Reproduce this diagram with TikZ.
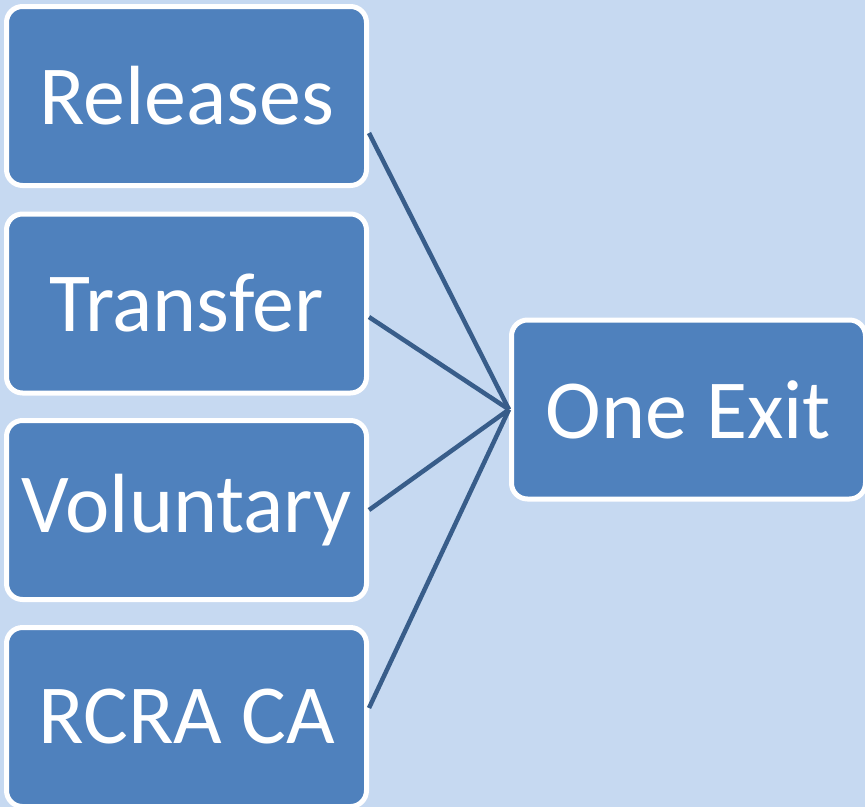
\documentclass[tikz,border=0pt]{standalone}
\usepackage{fontspec}
\setmainfont{Carlito}
\usepackage{tikz}
\definecolor{bgblue}{HTML}{C6D9F1}
\definecolor{boxblue}{HTML}{4F81BD}
\definecolor{lineblue}{HTML}{385D8A}
\tikzset{
	item/.style={draw=white, line width=5pt, fill=boxblue, rounded corners=16pt, text=white, inner sep=0pt,
		minimum width=360pt, minimum height=179pt, font=\fontsize{84}{100}\selectfont},
	link/.style={draw=lineblue, line width=4.5pt}
}
\begin{document}
\begin{tikzpicture}[x=1pt, y=1pt]
			\fill[bgblue] (0,0) rectangle (865,-807);
			\useasboundingbox (0,0) rectangle (865,-807);
			\node[item] (releases) at (186.5,-96) {Releases};
			\node[item] (transfer) at (186.5,-303.5) {Transfer};
			\node[item] (voluntary) at (186.5,-510) {Voluntary};
			\node[item] (rcra) at (186.5,-717) {RCRA CA};
			\node[item, minimum width=354pt] (exit) at (688.5,-409.5) {One Exit};
			\draw[link] ([yshift=-37pt]releases.east) -- (exit.west);
			\draw[link] ([yshift=-13.5pt]transfer.east) -- (exit.west);
			\draw[link] (voluntary.east) -- (exit.west);
			\draw[link] ([yshift=9pt]rcra.east) -- (exit.west);
		\end{tikzpicture}
\end{document}
